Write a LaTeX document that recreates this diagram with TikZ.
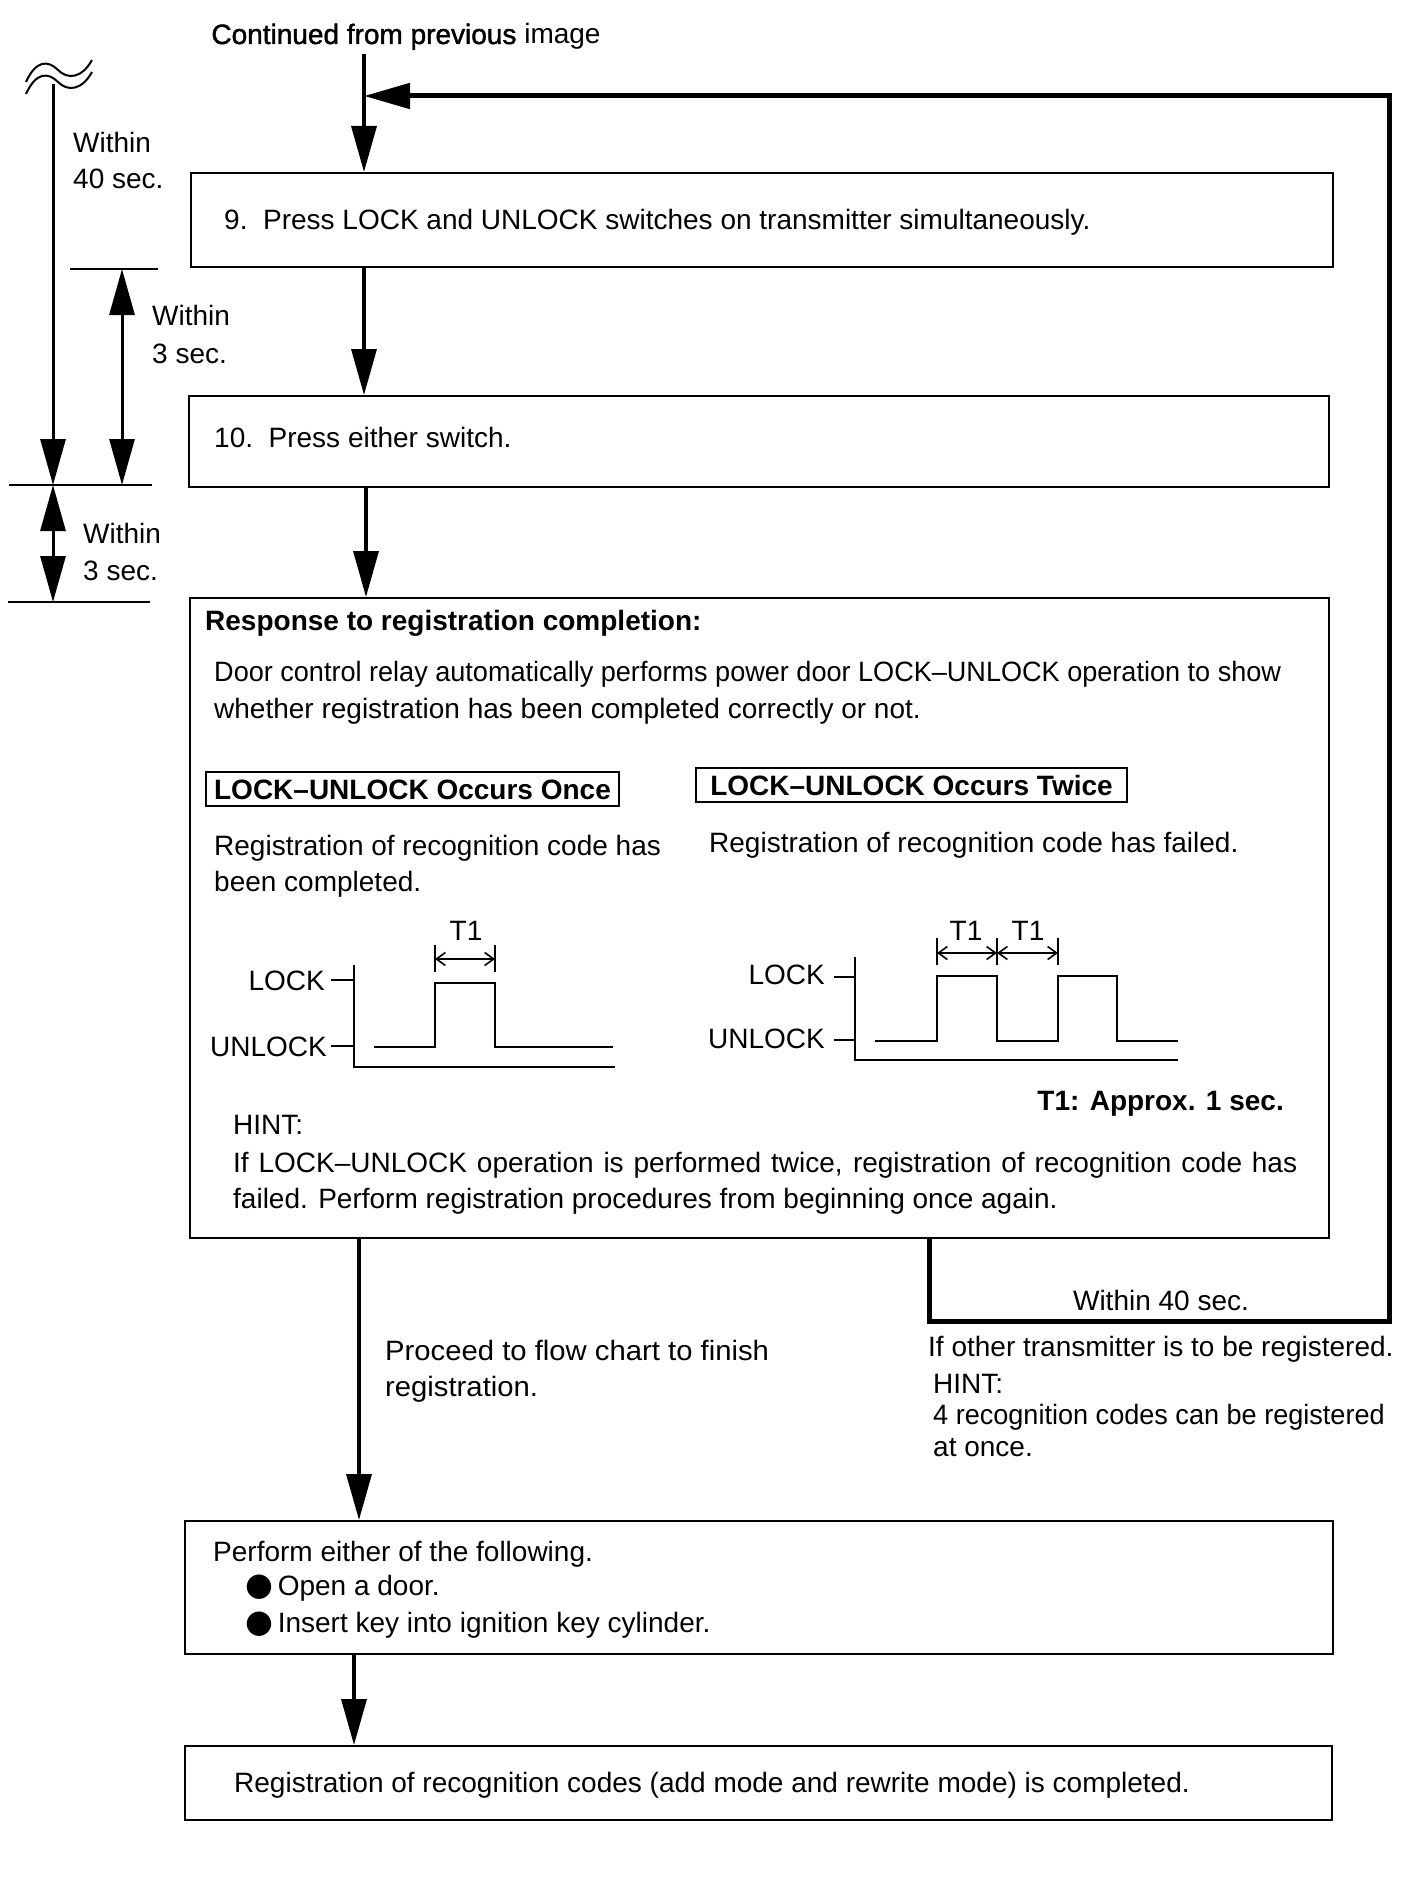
\documentclass[tikz,border=0pt]{standalone}
\usepackage{fontspec}
\setmainfont{Liberation Sans}
\newfontfamily\dejavu{DejaVu Sans}
\newfontfamily\condensed[FakeStretch=0.967]{Liberation Sans}
\newfontfamily\wider[FakeStretch=1.045]{Liberation Sans}
\newfontfamily\heavy[FakeBold=1.5]{Liberation Sans}
\usetikzlibrary{arrows.meta}
\begin{document}
\begin{tikzpicture}[x=1pt,y=-1pt,
  box/.style={draw,line width=2pt,inner sep=0pt},
  txt/.style={inner sep=0pt,anchor=west,font=\fontsize{28}{36}\selectfont,text height=20pt,text depth=0pt},
  btxt/.style={txt,font=\fontsize{28}{36}\selectfont\bfseries},
  arr/.style={line width=3.5pt,-{Triangle[length=46pt,width=25pt]}},
  darr/.style={line width=3.5pt,{Triangle[length=46pt,width=25pt]}-{Triangle[length=46pt,width=25pt]}},
  fbl/.style={line width=5pt,-{Triangle[length=46pt,width=25pt]}},
  dim/.style={line width=2.5pt},
  sig/.style={line width=2pt},
  tarr/.style={line width=1.6pt,{Straight Barb[length=9pt,width=13pt]}-{Straight Barb[length=9pt,width=13pt]}}
]
\useasboundingbox (0,0) rectangle (1408,1900);
\fill[white] (0,0) rectangle (1408,1900);

% ---------- top ----------
\node[txt,anchor=center] (cont) at (406,34) {{\heavy Continued from previous} image};
\coordinate (s0) at (364,54);

% boxes
\node[box,minimum width=1142pt,minimum height=94pt] (b9) at (762,220) {};
\node[box,minimum width=1140pt,minimum height=91pt] (b10) at (759,441.5) {};
\node[box,minimum width=1139pt,minimum height=640pt] (big) at (759.5,918) {};
\node[box,minimum width=1148pt,minimum height=133pt] (b11) at (759,1587.5) {};
\node[box,minimum width=1147pt,minimum height=74pt] (b12) at (758.5,1783) {};

% main flow arrows
\draw[arr] (s0) -- (s0 |- b9.north);
\coordinate (a1) at (364,0);
\draw[arr] (a1 |- b9.south) -- (a1 |- b10.north);
\coordinate (a2) at (366,0);
\draw[arr] (a2 |- b10.south) -- (a2 |- big.north);
\coordinate (a3) at (359,0);
\draw[arr] (a3 |- big.south) -- (a3 |- b11.north);
\coordinate (a4) at (354,0);
\draw[arr] (a4 |- b11.south) -- (a4 |- b12.north);

% feedback loop
\coordinate (fbS) at (929,0);
\coordinate (fbR) at (1389,1321);
\coordinate (fbT) at (1389,96);
\draw[fbl] (fbS |- big.south) |- (fbR) -- (fbT) -- (fbT -| s0);
\node[txt,anchor=center] (w40r) at (1161,1300) {Within 40 sec.};

% ---------- box texts ----------
\node[txt] (t9) at (224,219) {9.\ \ Press LOCK and UNLOCK switches on transmitter simultaneously.};
\node[txt] (t10) at (214,437) {10.\ \ Press either switch.};

\node[btxt] (resp) at (205,620) {Response to registration completion:};
\node[txt] (d1) at (214,671) {\condensed Door control relay automatically performs power door LOCK–UNLOCK operation to show};
\node[txt] (d2) at (214,708) {whether registration has been completed correctly or not.};

\node[box,minimum width=413pt,minimum height=34pt] (fonce) at (412.5,789) {};
\node[btxt,anchor=center] (lonce) at (fonce.center) {LOCK–UNLOCK Occurs Once};
\node[box,minimum width=431pt,minimum height=34pt] (ftwice) at (911.5,785) {};
\node[btxt,anchor=center] (ltwice) at (ftwice.center) {LOCK–UNLOCK Occurs Twice};

\node[txt] (r1) at (214,845) {Registration of recognition code has};
\node[txt] (r2) at (214,881) {been completed.};
\node[txt] (r3) at (709,842) {Registration of recognition code has failed.};

% timing diagram 1
\draw[sig] (354,965) |- (615,1067);
\draw[sig] (331,980) -- (354,980);
\draw[sig] (331,1046) -- (354,1046);
\draw[sig] (374,1047) -- (435,1047) |- (495,983) |- (613,1047);
\draw[sig] (435,945) -- (435,972);
\draw[sig] (495,945) -- (495,972);
\draw[tarr] (435,959) -- (495,959);
\node[txt,anchor=center] (ta) at (466,930) {T1};
\node[txt,anchor=east] (lk1) at (325,980) {LOCK};
\node[txt,anchor=east] (ul1) at (327,1046) {UNLOCK};

% timing diagram 2
\draw[sig] (855,957) |- (1178,1060);
\draw[sig] (834,977) -- (855,977);
\draw[sig] (834,1040) -- (855,1040);
\draw[sig] (875,1041) -- (937,1041) |- (997,976) |- (1058,1041) |- (1117,976) |- (1178,1041);
\draw[sig] (937,938) -- (937,965);
\draw[sig] (997,938) -- (997,965);
\draw[sig] (1058,938) -- (1058,965);
\draw[tarr] (937,953) -- (997,953);
\draw[tarr] (997,953) -- (1058,953);
\node[txt,anchor=center] (tb) at (966,930) {T1};
\node[txt,anchor=center] (tc) at (1028,930) {T1};
\node[txt,anchor=east] (lk2) at (825,974) {LOCK};
\node[txt,anchor=east] (ul2) at (825,1038) {UNLOCK};

\node[btxt,anchor=east] (approx) at (1284,1100) {T1: Approx. 1 sec.};
\node[txt] (hint1) at (233,1124) {HINT:};
\node[inner sep=0pt,anchor=north west,text width=1064pt,align=justify,font=\fontsize{28}{36}\selectfont] (hinttxt) at (233,1152) {If LOCK–UNLOCK operation is performed twice, registration of recognition code has failed. Perform registration procedures from beginning once again.};

% ---------- below big box ----------
\node[txt] (p1) at (385,1350) {\wider Proceed to flow chart to finish};
\node[txt] (p2) at (385,1386) {\wider registration.};
\node[txt] (o1) at (928,1346) {If other transmitter is to be registered.};
\node[txt] (o2) at (933,1383) {HINT:};
\node[txt] (o3) at (933,1414) {\condensed 4 recognition codes can be registered};
\node[txt] (o4) at (933,1446) {at once.};

\node[txt] (e1) at (213,1551) {Perform either of the following.};
\node[txt] (e2) at (245,1585) {{\dejavu\fontsize{32}{36}\selectfont ●}\,Open a door.};
\node[txt] (e3) at (245,1622) {{\dejavu\fontsize{32}{36}\selectfont ●}\,Insert key into ignition key cylinder.};

\node[txt] (t12) at (234,1782) {Registration of recognition codes (add mode and rewrite mode) is completed.};

% ---------- left dimensions ----------
\draw[line width=2pt] (26,82) .. controls (36,60) and (48,60) .. (58,70) .. controls (68,80) and (82,78) .. (92,60);
\draw[line width=2pt] (26,94) .. controls (36,72) and (48,72) .. (58,82) .. controls (68,92) and (82,90) .. (92,72);
\coordinate (w0) at (53,84);
\draw[arr,line width=3pt] (w0) -- (53,485);
\coordinate (l1a) at (70,269);
\coordinate (l1b) at (158,269);
\draw[dim] (l1a) -- (l1b);
\coordinate (l2a) at (9,485);
\coordinate (l2b) at (152,485);
\draw[dim] (l2a) -- (l2b);
\coordinate (l3a) at (8,602);
\coordinate (l3b) at (150,602);
\draw[dim] (l3a) -- (l3b);
\draw[darr,line width=3pt] (l1a -| 122,0) -- (l2a -| 122,0);
\draw[darr,line width=3pt] (53,485) -- (53,602);

\node[txt] (w40a) at (73,142) {Within};
\node[txt] (w40b) at (73,178) {40 sec.};
\node[txt] (w3a) at (152,315) {Within};
\node[txt] (w3b) at (152,353) {3 sec.};
\node[txt] (w3c) at (83,533) {Within};
\node[txt] (w3d) at (83,570) {3 sec.};
\end{tikzpicture}
\end{document}
